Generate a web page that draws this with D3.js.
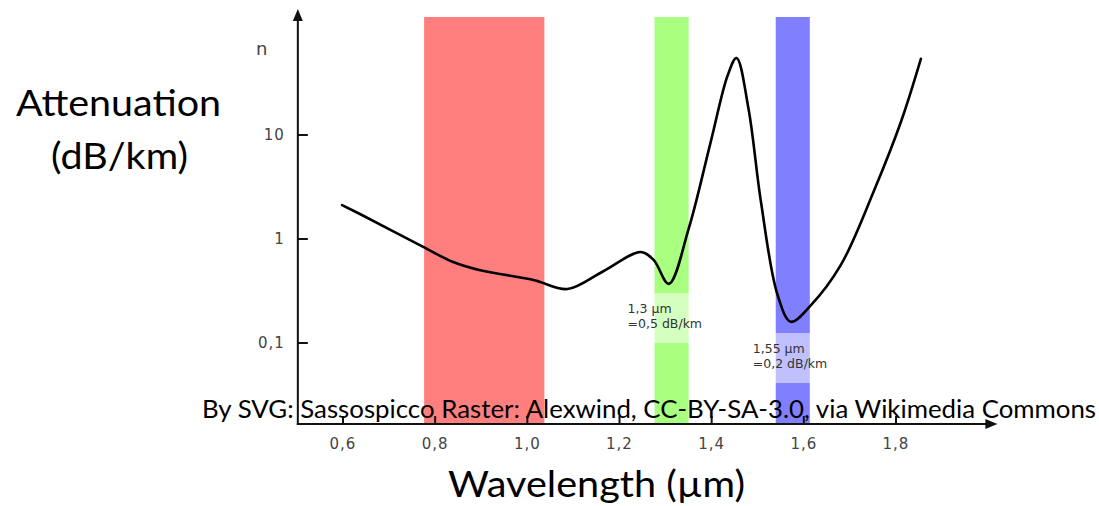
<!DOCTYPE html>
<html>
<head>
<meta charset="utf-8">
<script src="https://cdn.jsdelivr.net/npm/d3@7"></script>
<style>
  html, body { margin: 0; padding: 0; background: #fff; }
  svg { display: block; }
</style>
</head>
<body>
<div id="chart"></div>
<script>
// Attenuation curve (wavelength in µm, attenuation in dB/km)
const wavelength  = [0.598, 0.641, 0.774, 0.839, 0.898, 1.007, 1.028, 1.087, 1.165, 1.246, 1.274, 1.307, 1.350, 1.398, 1.435, 1.454, 1.480, 1.507, 1.543, 1.572, 1.615, 1.680, 1.752, 1.811, 1.854];
const attenuation = [2.12, 1.70, 0.84, 0.60, 0.50, 0.41, 0.386, 0.33, 0.49, 0.75, 0.63, 0.37, 1.25, 8.6, 37.8, 55, 17.8, 2.27, 0.29, 0.16, 0.23, 0.56, 2.9, 13.5, 54];

// Transmission windows
const bandStart = [0.776, 1.276, 1.539];
const bandEnd   = [1.037, 1.350, 1.613];
const bandColor = ['#ff7f7f', '#a8ff80', '#8080ff'];

// Minimum annotations
const noteWavelength = [1.3, 1.55];
const noteLines = [['1,3 µm', '=0,5 dB/km'], ['1,55 µm', '=0,2 dB/km']];

// Axes
const xTicks = [0.6, 0.8, 1.0, 1.2, 1.4, 1.6, 1.8];
const yTicks = [0.1, 1, 10];
const yTickLabels = ['0,1', '1', '10'];

const width = 1099;
const height = 506;

const svg = d3.select('#chart').append('svg')
  .attr('width', width)
  .attr('height', height);

const x = d3.scaleLinear().domain([0.6, 1.8]).range([343, 896]);
const y = d3.scaleLog().domain([0.1, 10]).range([343, 135]);

const axisY = 424;           // pixel row of the x axis
const axisX = x(0.502);      // pixel column of the y axis
const xEnd = x(2.02);
const yTop = 9;

// bands
svg.append('g')
  .selectAll('rect')
  .data(bandStart)
  .join('rect')
  .attr('x', (d, i) => x(d))
  .attr('width', (d, i) => x(bandEnd[i]) - x(d))
  .attr('y', 17)
  .attr('height', axisY - 17)
  .attr('fill', (d, i) => bandColor[i]);

// annotation boxes (semi-transparent white) + text
const noteOffset = [{dx: -38, top: 293, w: 88}, {dx: -28, top: 333, w: 96}];
const notes = svg.append('g')
  .selectAll('g')
  .data(noteWavelength)
  .join('g')
  .attr('transform', (d, i) => `translate(${x(d) + noteOffset[i].dx},${noteOffset[i].top})`);

notes.append('rect')
  .attr('x', -2)
  .attr('width', (d, i) => noteOffset[i].w)
  .attr('height', 50)
  .attr('fill', '#fff')
  .attr('fill-opacity', 0.5);

notes.selectAll('text')
  .data((d, i) => noteLines[i])
  .join('text')
  .attr('x', 0)
  .attr('y', (d, j) => 20 + j * 15)
  .attr('font-family', '"DejaVu Sans", sans-serif')
  .attr('font-size', 12.5)
  .attr('fill', '#333')
  .text(d => d);

// curve
const line = d3.line()
  .x((d, i) => x(wavelength[i]))
  .y(d => y(d))
  .curve(d3.curveCatmullRom.alpha(0.5));

svg.append('path')
  .datum(attenuation)
  .attr('d', line)
  .attr('fill', 'none')
  .attr('stroke', '#000')
  .attr('stroke-width', 2.6)
  .attr('stroke-linecap', 'round');

// axes lines with arrows
const ax = svg.append('g').attr('stroke', '#111').attr('stroke-width', 2);
ax.append('line').attr('x1', axisX).attr('x2', axisX).attr('y1', axisY + 1).attr('y2', yTop + 6);
ax.append('line').attr('x1', axisX - 1).attr('x2', xEnd - 6).attr('y1', axisY).attr('y2', axisY);

svg.append('path')
  .attr('d', `M${axisX},${yTop} L${axisX - 5},${yTop + 12} L${axisX + 5},${yTop + 12} Z`)
  .attr('fill', '#111');
svg.append('path')
  .attr('d', `M${xEnd},${axisY} L${xEnd - 12},${axisY - 5} L${xEnd - 12},${axisY + 5} Z`)
  .attr('fill', '#111');

// x ticks
const xt = svg.append('g');
xt.selectAll('line')
  .data(xTicks)
  .join('line')
  .attr('x1', d => x(d)).attr('x2', d => x(d))
  .attr('y1', axisY).attr('y2', axisY - 8)
  .attr('stroke', '#111').attr('stroke-width', 2);
xt.selectAll('text')
  .data(xTicks)
  .join('text')
  .attr('x', d => x(d))
  .attr('y', axisY + 25)
  .attr('text-anchor', 'middle')
  .attr('font-family', '"DejaVu Sans", sans-serif')
  .attr('font-size', 15)
  .attr('letter-spacing', 1)
  .attr('fill', '#444')
  .text(d => d3.format('.1f')(d).replace('.', ','));

// y ticks
const yt = svg.append('g');
yt.selectAll('line')
  .data(yTicks)
  .join('line')
  .attr('x1', axisX).attr('x2', axisX + 10)
  .attr('y1', d => y(d)).attr('y2', d => y(d))
  .attr('stroke', '#111').attr('stroke-width', 2);
yt.selectAll('text')
  .data(yTicks)
  .join('text')
  .attr('x', axisX - 13)
  .attr('y', d => y(d) + 5)
  .attr('text-anchor', 'end')
  .attr('font-family', '"DejaVu Sans", sans-serif')
  .attr('font-size', 15)
  .attr('letter-spacing', 1)
  .attr('fill', '#444')
  .text((d, i) => yTickLabels[i]);

svg.append('text')
  .attr('x', 256).attr('y', 55)
  .attr('font-family', '"DejaVu Sans", sans-serif')
  .attr('font-size', 18)
  .attr('fill', '#444')
  .text('n');

// titles (stretched to the widths in the picture)
const title = svg.append('g')
  .attr('font-family', 'Lato, "Open Sans", sans-serif')
  .attr('fill', '#000');

title.append('text')
  .attr('x', 16).attr('y', 116)
  .attr('font-size', 36)
  .attr('textLength', 205)
  .attr('lengthAdjust', 'spacingAndGlyphs')
  .text('Attenuation');
title.append('text')
  .attr('x', 51).attr('y', 169)
  .attr('font-size', 36)
  .attr('textLength', 137)
  .attr('lengthAdjust', 'spacingAndGlyphs')
  .text('(dB/km)');
title.append('text')
  .attr('x', 448).attr('y', 497)
  .attr('font-size', 37)
  .attr('textLength', 297)
  .attr('lengthAdjust', 'spacingAndGlyphs')
  .text('Wavelength (µm)');
title.append('text')
  .attr('x', 202).attr('y', 418)
  .attr('font-size', 25)
  .attr('textLength', 894)
  .attr('lengthAdjust', 'spacingAndGlyphs')
  .text('By SVG: Sassospicco Raster: Alexwind, CC-BY-SA-3.0, via Wikimedia Commons');
</script>
</body>
</html>
